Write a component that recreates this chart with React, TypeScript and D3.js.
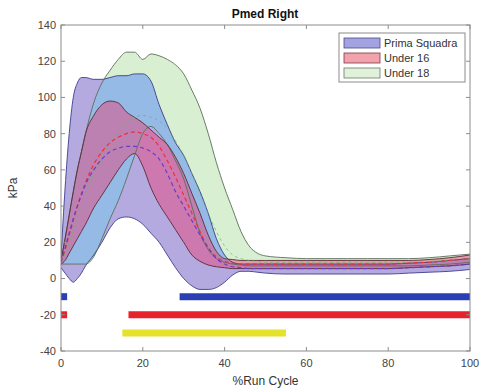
import * as d3 from 'd3';

// % of run cycle
const cycle = [0, 1, 2, 3, 4, 5, 6, 8, 10, 12, 14, 16, 18, 20, 22, 24, 26, 28, 30, 32, 34, 36, 38, 40, 42, 44, 46, 48, 50, 55, 60, 65, 70, 75, 80, 85, 90, 95, 100];

// Prima Squadra
const psUpper = [12, 50, 80, 100, 108, 111, 111, 110, 110, 111, 112, 112, 113, 113, 109, 96, 85, 75, 68, 58, 48, 36, 22, 13, 9, 8, 8, 8, 8, 8, 8, 8, 8, 8, 8, 8.5, 9, 10, 11];
const psLower = [6, 3, 0, -2, 0, 3, 7, 13, 20, 28, 33, 34, 33, 30, 25, 20, 13, 6, 0, -4, -6, -6, -5, -2, 2, 4, 4, 3.5, 3, 2.5, 2.5, 2.5, 2.5, 2.5, 2.5, 3, 3.5, 4, 5];
const psMean = [9, 17, 25, 33, 40, 46, 52, 60, 66, 70, 72, 73, 73, 72, 70, 66, 58, 48, 40, 32, 24, 17, 11, 8, 6.5, 6, 5.5, 5.5, 5.5, 5.5, 5.5, 5.5, 5.5, 5.5, 5.5, 6, 6.5, 7, 8];

// Under 16
const u16Upper = [10, 22, 35, 48, 60, 70, 80, 90, 96, 98, 97, 92, 89, 86, 82, 78, 74, 67, 58, 47, 36, 24, 15, 11, 10.5, 10, 10, 10, 10, 10, 10, 10, 10, 10, 10, 10, 10.5, 11.5, 13];
const u16Lower = [8, 10, 14, 18, 22, 26, 30, 39, 46, 53, 60, 66, 69, 62, 50, 41, 34, 27, 20, 13, 9.5, 7.5, 6.5, 6, 5.5, 5.5, 5.5, 5.5, 5.5, 5.5, 5.5, 5.5, 5.5, 5.5, 5.5, 6, 6.5, 7, 8];
const u16Mean = [9, 16, 24, 32, 40, 47, 53, 63, 70, 75, 78, 80, 81, 80, 78, 73, 65, 56, 46, 36, 26, 17, 12, 9.5, 8.5, 8, 8, 8, 8, 8, 8, 8, 8, 8, 8, 8.5, 9, 10, 11];

// Under 18
const u18Upper = [10, 22, 35, 48, 60, 70, 80, 97, 108, 115, 121, 125, 125, 121, 124, 123, 121, 118, 113, 104, 94, 80, 64, 50, 38, 26, 18, 14, 12.5, 11.5, 11, 11, 11, 11, 11, 11, 11.5, 12.5, 13.5];
const u18Lower = [8, 8, 8, 8, 8, 8, 8, 12, 22, 33, 43, 55, 68, 80, 84, 80, 74, 65, 55, 40, 25, 16, 11, 9, 8, 7.5, 7, 7, 7, 7, 7, 7, 7, 7, 7, 7, 7.5, 8, 9];
const u18Mean = [9, 14, 20, 27, 34, 41, 47, 58, 67, 75, 81, 86, 89, 90, 89, 87, 83, 76, 68, 58, 47, 36, 26, 18, 13, 11, 10, 9.5, 9, 9, 9, 9, 9, 9, 9, 9, 9.5, 10, 11];

// significance bars (start, end of cycle)
const sigPS = [[0, 1.5], [29, 100]];
const sigU16 = [[0, 1.5], [16.5, 100]];
const sigU18 = [[15, 55]];
const sigLevels = [-10, -20, -30];

const legendLabels = ['Prima Squadra', 'Under 16', 'Under 18'];
const yTicks = [-40, -20, 0, 20, 40, 60, 80, 100, 120, 140];
const xTicks = [0, 20, 40, 60, 80, 100];

const W = 481;
const H = 392;
const margin = { top: 25, right: 11, bottom: 41, left: 61 };
const font = '"Liberation Sans", Arial, sans-serif';

export default function App() {
  const iw = W - margin.left - margin.right;
  const ih = H - margin.top - margin.bottom;
  const x = d3.scaleLinear().domain([0, 100]).range([0, iw]);
  const y = d3.scaleLinear().domain([-40, 140]).range([ih, 0]);

  const band = (lo: number[], hi: number[]) =>
    d3.area<number>()
      .x((d) => x(d))
      .y0((_, i) => y(lo[i]))
      .y1((_, i) => y(hi[i]))
      .curve(d3.curveMonotoneX)(cycle) || '';
  const line = (v: number[]) =>
    d3.line<number>()
      .x((d) => x(d))
      .y((_, i) => y(v[i]))
      .curve(d3.curveMonotoneX)(cycle) || '';

  const psBand = band(psLower, psUpper);
  const u16Band = band(u16Lower, u16Upper);
  const u18Band = band(u18Lower, u18Upper);

  const sigSets = [
    { segs: sigPS, color: '#2a3fb4' },
    { segs: sigU16, color: '#e8222c' },
    { segs: sigU18, color: '#e6e22c' },
  ];
  const swatches = [
    { fill: '#a3a3e2', stroke: '#4a4a8a' },
    { fill: '#f2a2ac', stroke: '#7a3a44' },
    { fill: '#e2f2da', stroke: '#6a7a66' },
  ];

  return (
    <svg width={W} height={H} style={{ position: 'absolute', left: 0, top: 0, background: '#fff' }} fontFamily={font}>
      <defs>
        <clipPath id="plot">
          <rect x={0} y={0} width={iw} height={ih} />
        </clipPath>
        <clipPath id="psClip">
          <path d={psBand} />
        </clipPath>
      </defs>
      <text x={265} y={18} textAnchor="middle" fontSize={12} fontWeight="bold" fill="#111">Pmed Right</text>
      <g transform={`translate(${margin.left},${margin.top})`}>
        <g clipPath="url(#plot)">
          <path d={u18Band} fill="#d9efd1" />
          <path d={psBand} fill="#b4aae0" />
          <path d={u18Band} fill="#96bae6" clipPath="url(#psClip)" />
          <path d={u16Band} fill="#ec3c70" fillOpacity={0.45} />

          <path d={line(psUpper)} fill="none" stroke="#3c3c8c" strokeWidth={0.9} />
          <path d={line(psLower)} fill="none" stroke="#3c3c8c" strokeWidth={0.9} />
          <path d={line(u18Upper)} fill="none" stroke="#5a6e58" strokeWidth={0.9} />
          <path d={line(u18Lower)} fill="none" stroke="#5a6e58" strokeWidth={0.9} />
          <path d={line(u16Upper)} fill="none" stroke="#5a2a3a" strokeWidth={0.9} />
          <path d={line(u16Lower)} fill="none" stroke="#5a2a3a" strokeWidth={0.9} />

          <path d={line(u18Mean)} fill="none" stroke="#5cbc64" strokeOpacity={0.7} strokeWidth={1} strokeDasharray="3 3" />
          <path d={line(u16Mean)} fill="none" stroke="#e8323c" strokeWidth={1.2} strokeDasharray="4 3" />
          <path d={line(psMean)} fill="none" stroke="#6a3cc8" strokeWidth={1.2} strokeDasharray="4 3" />

          {sigSets.map((s, i) =>
            s.segs.map((seg, j) => (
              <line key={`${i}-${j}`} x1={x(seg[0])} x2={x(seg[1])} y1={y(sigLevels[i])} y2={y(sigLevels[i])}
                stroke={s.color} strokeWidth={7} />
            ))
          )}
        </g>

        <rect x={0} y={0} width={iw} height={ih} fill="none" stroke="#8c8c8c" strokeWidth={1} />
        {yTicks.map((t) => (
          <g key={`y${t}`}>
            <line x1={0} x2={4} y1={y(t)} y2={y(t)} stroke="#8c8c8c" />
            <line x1={iw - 4} x2={iw} y1={y(t)} y2={y(t)} stroke="#8c8c8c" />
            <text x={-5} y={y(t)} dy="0.35em" textAnchor="end" fontSize={11} fill="#444">{t}</text>
          </g>
        ))}
        {xTicks.map((t) => (
          <g key={`x${t}`}>
            <line x1={x(t)} x2={x(t)} y1={ih} y2={ih - 4} stroke="#8c8c8c" />
            <line x1={x(t)} x2={x(t)} y1={0} y2={4} stroke="#8c8c8c" />
            <text x={x(t)} y={ih + 16} textAnchor="middle" fontSize={11} fill="#444">{t}</text>
          </g>
        ))}
        <text x={iw / 2} y={ih + 34} textAnchor="middle" fontSize={12} fill="#333">%Run Cycle</text>
        <text transform={`translate(${-44},${ih / 2}) rotate(-90)`} textAnchor="middle" fontSize={12} fill="#333">kPa</text>

        <g transform={`translate(${339 - margin.left},${33 - margin.top})`}>
          <rect x={0} y={0} width={126} height={49} fill="#fff" stroke="#8c8c8c" />
          {legendLabels.map((lab, i) => (
            <g key={lab} transform={`translate(0,${10 + i * 15})`}>
              <rect x={5} y={-5} width={36} height={10} fill={swatches[i].fill} stroke={swatches[i].stroke} strokeWidth={0.8} />
              <text x={45} y={0} dy="0.35em" fontSize={11} fill="#333">{lab}</text>
            </g>
          ))}
        </g>
      </g>
    </svg>
  );
}
